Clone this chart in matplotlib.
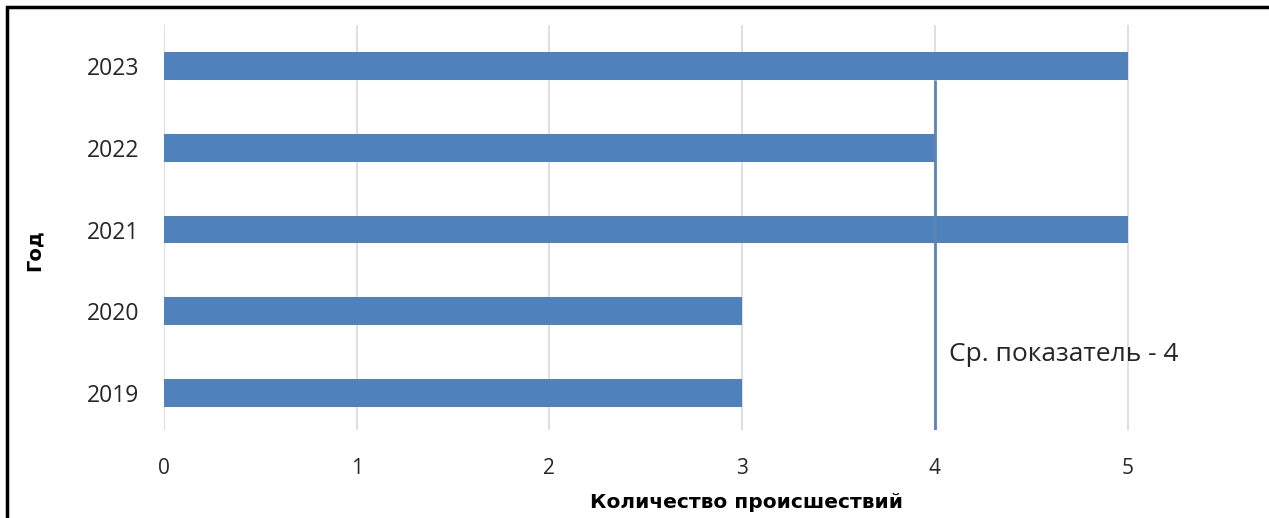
import matplotlib
matplotlib.use("Agg")
import matplotlib.pyplot as plt
from matplotlib.patches import Rectangle

plt.rcParams['font.family'] = ['Open Sans', 'DejaVu Sans']

years = ["2019", "2020", "2021", "2022", "2023"]
incidents = [3, 3, 5, 4, 5]
x_ticks = [0, 1, 2, 3, 4, 5]
avg_value = sum(incidents) / len(incidents)

bar_color = "#4f81bd"
bar_h = 0.34

W, H = 1269, 518
fig = plt.figure(figsize=(W / 100, H / 100), dpi=100)
ax = fig.add_axes([0.1292, 0.1699, 0.8353, 0.7818])

pos = list(range(len(years)))
ax.barh(pos, incidents, height=bar_h, color=bar_color, zorder=3)

# average marker line, running up to the top bar
ax.vlines(avg_value, -0.45, len(years) - 1 - bar_h / 2, color="#5b85b8",
          linewidth=2.0, zorder=4)
ax.text(avg_value + 0.075, 0.47, f"Ср. показатель - {avg_value:g}",
        fontsize=19, color="#262626", va="center", ha="left", zorder=5)

ax.set_xlim(0, 5.5)
ax.set_ylim(-0.45, 4.5)
ax.set_xticks(x_ticks)
ax.set_xticklabels([str(t) for t in x_ticks])
ax.set_yticks(pos)
ax.set_yticklabels(years)
ax.tick_params(axis="both", length=0, colors="#262626")
ax.tick_params(axis="x", labelsize=15, pad=20)
ax.tick_params(axis="y", labelsize=16.5, pad=18)
ax.grid(axis="x", color="#d9d9d9", linewidth=1.2, zorder=0)
for s in ax.spines.values():
    s.set_visible(False)

fig.text(746 / W, 1 - 503 / H, "Количество происшествий",
         family="DejaVu Sans", fontsize=14.5, fontweight="bold",
         color="black", ha="center", va="center")
fig.text(34 / W, 1 - 250 / H, "Год", family="DejaVu Sans", fontsize=14,
         fontweight="bold", color="black", ha="center", va="center",
         rotation=90)

# outer frame
fig.patches.append(Rectangle((7 / W, -0.05), 1.2, 1.05 - 7 / H,
                             transform=fig.transFigure, fill=False,
                             edgecolor="black", linewidth=2.5))

fig.savefig("out.png", dpi=100, facecolor="white")
